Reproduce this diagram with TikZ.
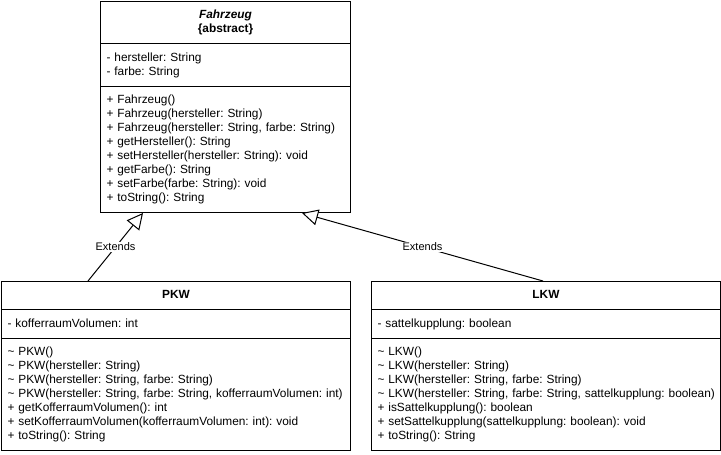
\documentclass[tikz,border=0pt]{standalone}
\usepackage{fontspec}
\setmainfont{Liberation Sans}
\usepackage{tikz}
\usetikzlibrary{arrows.meta,calc,positioning,shapes.multipart}
\frenchspacing
\newcommand{\umlspacer}{\rule[-3pt]{0pt}{10.5pt}}
\newcommand{\umltitle}[1]{\makebox[\linewidth][c]{#1}}
\newcommand{\umlline}[1]{\makebox[\linewidth][l]{#1}}

\begin{document}
\begin{tikzpicture}[
    x=0.75pt, y=-0.75pt,
    line width=0.75pt,
    umlclass/.style={
        rectangle split, rectangle split parts=3,
        draw, anchor=north west, align=left,
        inner xsep=4.5pt, inner ysep=5pt,
        font=\fontsize{8.9pt}{10.5pt}\selectfont},
    narrow/.style={text width=178.5pt},
    wide/.style={text width=252.75pt},
    extends/.style={-{Triangle[length=12pt, width=12pt, fill=white]}},
    edgelabel/.style={fill=white, inner sep=1pt, font=\fontsize{8.25pt}{9pt}\selectfont}]
\useasboundingbox (0,0) rectangle (721,454);

\node[umlclass, narrow] (fahrzeug) at (100,1) {
 \umltitle{\textbf{\textit{Fahrzeug}}}\umlspacer\\
 \umltitle{\textbf{\{abstract\}}}\umlspacer
 \nodepart{second}
 - hersteller: String\umlspacer\\
 - farbe: String\umlspacer
 \nodepart{third}
 + Fahrzeug()\umlspacer\\
 + Fahrzeug(hersteller: String)\umlspacer\\
 + Fahrzeug(hersteller: String, farbe: String)\umlspacer\\
 + getHersteller(): String\umlspacer\\
 + setHersteller(hersteller: String): void\umlspacer\\
 + getFarbe(): String\umlspacer\\
 + setFarbe(farbe: String): void\umlspacer\\
 + toString(): String\umlspacer
};

\node[umlclass, wide] (pkw) at (1,281) {
 \umltitle{\textbf{PKW}}\umlspacer
 \nodepart{second}
 - kofferraumVolumen: int\umlspacer
 \nodepart{third}
 \textasciitilde{} PKW()\umlspacer\\
 \textasciitilde{} PKW(hersteller: String)\umlspacer\\
 \textasciitilde{} PKW(hersteller: String, farbe: String)\umlspacer\\
 \umlline{\textasciitilde{} PKW(hersteller: String, farbe: String, kofferraumVolumen: int)}\umlspacer\\
 + getKofferraumVolumen(): int\umlspacer\\
 + setKofferraumVolumen(kofferraumVolumen: int): void\umlspacer\\
 + toString(): String\umlspacer
};

\node[umlclass, wide] (lkw) at (371,281) {
 \umltitle{\textbf{LKW}}\umlspacer
 \nodepart{second}
 - sattelkupplung: boolean\umlspacer
 \nodepart{third}
 \textasciitilde{} LKW()\umlspacer\\
 \textasciitilde{} LKW(hersteller: String)\umlspacer\\
 \textasciitilde{} LKW(hersteller: String, farbe: String)\umlspacer\\
 \umlline{\textasciitilde{} LKW(hersteller: String, farbe: String, sattelkupplung: boolean)}\umlspacer\\
 + isSattelkupplung(): boolean\umlspacer\\
 + setSattelkupplung(sattelkupplung: boolean): void\umlspacer\\
 + toString(): String\umlspacer
};

\path[draw, extends] ($(pkw.north west)+(87,0)$) -- node[edgelabel] {Extends} ($(fahrzeug.south west)+(43,0)$);
\path[draw, extends] ($(lkw.north west)+(172,0)$) -- node[edgelabel] {Extends} ($(fahrzeug.south west)+(202,0)$);

\end{tikzpicture}
\end{document}
